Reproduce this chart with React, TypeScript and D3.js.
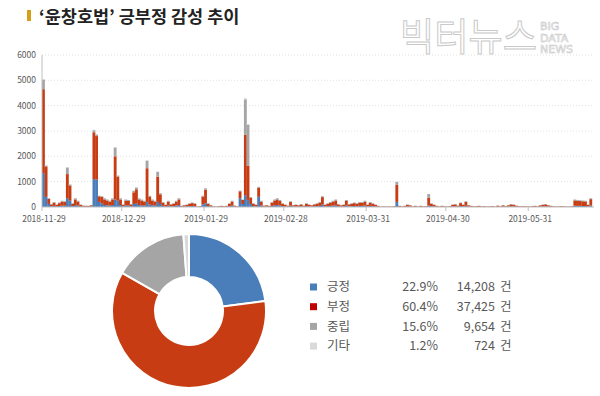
import * as d3 from "d3";
import React, { useEffect, useRef } from "react";

// daily sentiment counts, 2018-11-29 .. 2019-06-23
const startDay = new Date(2018, 10, 29);
const endDay = new Date(2019, 5, 24);

const positive = [
  1340, 400, 120, 26, 44, 22, 40, 55, 51, 350,
  250, 33, 77, 55, 22, 13, 11, 11, 18, 1100,
  1080, 200, 150, 77, 66, 55, 77, 300, 250, 77,
  22, 66, 62, 26, 120, 150, 77, 66, 55, 200,
  100, 66, 55, 200, 120, 44, 22, 55, 26, 33,
  55, 77, 11, 18, 22, 33, 40, 33, 4, 9,
  100, 150, 33, 18, 7, 4, 9, 11, 9, 11,
  33, 55, 13, 7, 350, 120, 470, 280, 120, 33,
  22, 400, 55, 13, 18, 11, 44, 66, 77, 62,
  33, 22, 13, 51, 18, 22, 18, 26, 13, 33,
  22, 18, 26, 33, 44, 100, 22, 33, 44, 55,
  66, 26, 18, 22, 62, 26, 33, 40, 33, 44,
  44, 55, 22, 44, 33, 22, 11, 4, 7, 4,
  7, 4, 9, 200, 11, 7, 11, 22, 18, 7,
  11, 4, 11, 7, 9, 60, 33, 22, 11, 7,
  11, 7, 4, 9, 22, 26, 13, 40, 22, 51,
  18, 11, 7, 9, 11, 7, 9, 4, 7, 9,
  4, 13, 7, 18, 9, 18, 26, 22, 13, 9,
  7, 9, 7, 4, 9, 11, 7, 18, 22, 26,
  18, 11, 7, 4, 7, 9, 7, 4, 4, 9,
  50, 45, 45, 40, 40, 22, 60,
];

const negative = [
  3310, 1200, 200, 76, 126, 63, 113, 158, 145, 950,
  600, 95, 221, 158, 63, 38, 32, 32, 50, 1850,
  1720, 220, 250, 221, 189, 158, 221, 1700, 950, 221,
  63, 189, 176, 76, 460, 550, 221, 189, 158, 1330,
  310, 189, 158, 1000, 380, 126, 63, 158, 76, 95,
  158, 221, 32, 50, 63, 95, 113, 95, 13, 25,
  310, 530, 95, 50, 19, 13, 25, 32, 25, 32,
  95, 158, 38, 19, 270, 160, 2380, 1340, 250, 95,
  63, 360, 158, 38, 50, 32, 126, 189, 221, 176,
  95, 63, 38, 145, 50, 63, 50, 76, 38, 95,
  63, 50, 76, 95, 126, 290, 63, 95, 126, 158,
  189, 76, 50, 63, 176, 76, 95, 113, 95, 126,
  126, 158, 63, 126, 95, 63, 32, 13, 19, 13,
  19, 13, 25, 670, 32, 19, 32, 63, 50, 19,
  32, 13, 32, 19, 25, 300, 95, 63, 32, 19,
  32, 19, 13, 25, 63, 76, 38, 113, 63, 145,
  50, 32, 19, 25, 32, 19, 25, 13, 19, 25,
  13, 38, 19, 50, 25, 50, 76, 63, 38, 25,
  19, 25, 19, 13, 25, 32, 19, 50, 63, 76,
  50, 32, 19, 13, 19, 25, 19, 13, 13, 25,
  210, 200, 190, 185, 180, 63, 250,
];

const neutral = [
  380, 40, 25, 16, 27, 13, 24, 33, 31, 260,
  40, 20, 47, 33, 13, 8, 7, 7, 11, 80,
  60, 25, 25, 47, 40, 33, 47, 350, 40, 47,
  13, 40, 38, 16, 60, 70, 47, 40, 33, 300,
  35, 40, 33, 190, 45, 27, 13, 33, 16, 20,
  33, 47, 7, 11, 13, 20, 24, 20, 3, 6,
  35, 60, 20, 11, 4, 3, 6, 7, 6, 7,
  20, 33, 8, 4, 25, 15, 1400, 1620, 25, 20,
  13, 35, 33, 8, 11, 7, 27, 40, 47, 38,
  20, 13, 8, 31, 11, 13, 11, 16, 8, 20,
  13, 11, 16, 20, 27, 35, 13, 20, 27, 33,
  40, 16, 11, 13, 38, 16, 20, 24, 20, 27,
  27, 33, 13, 27, 20, 13, 7, 3, 4, 3,
  4, 3, 6, 120, 7, 4, 7, 13, 11, 4,
  7, 3, 7, 4, 6, 150, 20, 13, 7, 4,
  7, 4, 3, 6, 13, 16, 8, 24, 13, 31,
  11, 7, 4, 6, 7, 4, 6, 3, 4, 6,
  3, 8, 4, 11, 6, 11, 16, 13, 8, 6,
  4, 6, 4, 3, 6, 7, 4, 11, 13, 16,
  11, 7, 4, 3, 4, 6, 4, 3, 3, 6,
  35, 30, 30, 30, 25, 13, 35,
];

const other = [
  20, 10, 5, 2, 3, 2, 3, 4, 3, 10,
  10, 2, 5, 4, 2, 1, 0, 0, 1, 20,
  20, 5, 5, 5, 5, 4, 5, 20, 10, 5,
  2, 5, 4, 2, 10, 10, 5, 5, 4, 20,
  5, 5, 4, 10, 5, 3, 2, 4, 2, 2,
  4, 5, 0, 1, 2, 2, 3, 2, 0, 0,
  5, 10, 2, 1, 0, 0, 0, 0, 0, 0,
  2, 4, 1, 0, 5, 5, 50, 40, 5, 2,
  2, 5, 4, 1, 1, 0, 3, 5, 5, 4,
  2, 2, 1, 3, 1, 2, 1, 2, 1, 2,
  2, 1, 2, 2, 3, 5, 2, 2, 3, 4,
  5, 2, 1, 2, 4, 2, 2, 3, 2, 3,
  3, 4, 2, 3, 2, 2, 0, 0, 0, 0,
  0, 0, 0, 10, 0, 0, 0, 2, 1, 0,
  0, 0, 0, 0, 0, 10, 2, 2, 0, 0,
  0, 0, 0, 0, 2, 2, 1, 3, 2, 3,
  1, 0, 0, 0, 0, 0, 0, 0, 0, 0,
  0, 1, 0, 1, 0, 1, 2, 2, 1, 0,
  0, 0, 0, 0, 0, 0, 0, 1, 2, 2,
  1, 0, 0, 0, 0, 0, 0, 0, 0, 0,
  5, 5, 5, 5, 5, 2, 5,
];

const tickLabels = ["2018-11-29", "2018-12-29", "2019-01-29", "2019-02-28", "2019-03-31", "2019-04-30", "2019-05-31"];
const yTicks = [0, 1000, 2000, 3000, 4000, 5000, 6000];

const sentiments = ["긍정", "부정", "중립", "기타"];
const shares = ["22.9%", "60.4%", "15.6%", "1.2%"];
const counts = [14208, 37425, 9654, 724];
const barColors = ["#4a7ebb", "#c83c14", "#a5a5a5", "#d9d9d9"];
const legendColors = ["#4a7ebb", "#c00000", "#a5a5a5", "#d9d9d9"];

const FONT = "'Noto Sans CJK KR', 'Noto Sans', sans-serif";

function App() {
  const ref = useRef<SVGSVGElement>(null);

  useEffect(() => {
    const svg = d3.select(ref.current);
    svg.selectAll("*").remove();

    // title
    svg.append("rect").attr("x", 27).attr("y", 10).attr("width", 4).attr("height", 11).attr("fill", "#d4a017");
    svg
      .append("text")
      .attr("x", 39)
      .attr("y", 23)
      .attr("font-size", 17.5)
      .attr("font-weight", "bold")
      .attr("fill", "#222")
      .text("‘윤창호법’ 긍부정 감성 추이");

    // watermark
    const wm = svg.append("g").attr("fill", "#fff").attr("stroke", "#c9c9c9").attr("stroke-width", 1);
    wm.append("text")
      .attr("x", 400)
      .attr("y", 50)
      .attr("font-size", 38)
      .attr("textLength", 137)
      .attr("lengthAdjust", "spacingAndGlyphs")
      .text("빅터뉴스");
    ["BIG", "DATA", "NEWS"].forEach((w, i) => {
      wm.append("text")
        .attr("x", 540)
        .attr("y", 30 + i * 11.5)
        .attr("font-size", 11)
        .attr("font-family", "'DejaVu Sans', sans-serif")
        .attr("stroke-width", 0.6)
        .text(w);
    });

    // bar chart
    const days = d3.timeDay.range(startDay, endDay);
    const x = d3.scaleTime().domain([startDay, endDay]).range([42, 592]);
    const y = d3.scaleLinear().domain([0, 6000]).range([207, 55]);

    const grid = svg.append("g");
    yTicks.forEach((t) => {
      if (t > 0) {
        grid
          .append("line")
          .attr("x1", 42)
          .attr("x2", 592)
          .attr("y1", y(t))
          .attr("y2", y(t))
          .attr("stroke", "#d9d9d9")
          .attr("stroke-width", 0.8)
          .attr("stroke-dasharray", "1,2");
      }
      grid
        .append("text")
        .attr("x", 36)
        .attr("y", y(t))
        .attr("dy", "0.35em")
        .attr("text-anchor", "end")
        .attr("font-size", 8.5)
        .attr("fill", "#595959")
        .text(t);
    });

    const table = days.map((d, i) => ({
      date: d,
      pos: positive[i],
      neg: negative[i],
      neu: neutral[i],
      etc: other[i],
    }));
    const stack = d3.stack<any>().keys(["pos", "neg", "neu", "etc"]);
    const series = stack(table);

    svg
      .append("g")
      .selectAll("g")
      .data(series)
      .join("g")
      .attr("fill", (_, i) => barColors[i])
      .selectAll("rect")
      .data((s) => s)
      .join("rect")
      .attr("x", (d: any) => x(d.data.date))
      .attr("width", (d: any) => x(d3.timeDay.offset(d.data.date, 1)) - x(d.data.date) + 0.2)
      .attr("y", (d) => y(d[1]))
      .attr("height", (d) => y(d[0]) - y(d[1]));

    // axes lines
    svg.append("line").attr("x1", 42).attr("x2", 42).attr("y1", 55).attr("y2", 207).attr("stroke", "#bfbfbf");
    svg.append("line").attr("x1", 42).attr("x2", 594).attr("y1", 207).attr("y2", 207).attr("stroke", "#bfbfbf");

    const parse = d3.timeParse("%Y-%m-%d");
    tickLabels.forEach((lab) => {
      const px = x(parse(lab) as Date);
      svg.append("line").attr("x1", px).attr("x2", px).attr("y1", 207).attr("y2", 211).attr("stroke", "#bfbfbf");
      svg
        .append("text")
        .attr("x", px + 2)
        .attr("y", 219)
        .attr("dy", "0.35em")
        .attr("text-anchor", "middle")
        .attr("font-size", 8.5)
        .attr("fill", "#595959")
        .text(lab);
    });

    // donut
    const pie = d3.pie<number>().sort(null).value((d) => d);
    const arc = d3.arc<d3.PieArcDatum<number>>().innerRadius(34).outerRadius(77);
    svg
      .append("g")
      .attr("transform", "translate(189,311)")
      .selectAll("path")
      .data(pie(counts))
      .join("path")
      .attr("d", arc)
      .attr("fill", (_, i) => barColors[i])
      .attr("stroke", "#fff")
      .attr("stroke-width", 2);

    // legend
    const fmt = d3.format(",");
    const leg = svg.append("g").attr("font-size", 12.5).attr("fill", "#595959");
    sentiments.forEach((s, i) => {
      const cy = 287 + i * 19.7;
      leg.append("rect").attr("x", 310).attr("y", cy - 3.5).attr("width", 7).attr("height", 7).attr("fill", legendColors[i]);
      leg.append("text").attr("x", 327).attr("y", cy).attr("dy", "0.35em").text(s);
      leg.append("text").attr("x", 438).attr("y", cy).attr("dy", "0.35em").attr("text-anchor", "end").text(shares[i]);
      leg.append("text").attr("x", 495).attr("y", cy).attr("dy", "0.35em").attr("text-anchor", "end").text(fmt(counts[i]));
      leg.append("text").attr("x", 500).attr("y", cy).attr("dy", "0.35em").text("건");
    });
  }, []);

  return (
    <svg
      ref={ref}
      width={600}
      height={396}
      style={{ position: "absolute", left: 0, top: 0, background: "#fff", fontFamily: FONT }}
    />
  );
}

export default App;
